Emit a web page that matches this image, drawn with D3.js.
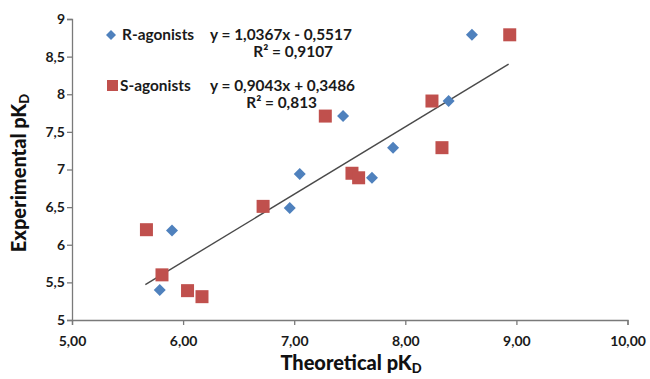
<!DOCTYPE html>
<html><head><meta charset="utf-8">
<script src="https://cdn.jsdelivr.net/npm/d3@7"></script>
<style>
html,body{margin:0;padding:0;background:#fff;}
text{font-family:Lato,"Open Sans",sans-serif;}
</style></head>
<body><svg id="c" width="650" height="379"></svg>
<script>
// Data
const rX = [5.79, 5.90, 6.96, 7.05, 7.44, 7.70, 7.89, 8.39, 8.60];
const rY = [5.40, 6.19, 6.49, 6.94, 7.71, 6.89, 7.29, 7.91, 8.79];
const sX = [5.67, 5.81, 6.04, 6.17, 6.72, 7.28, 7.52, 7.58, 8.24, 8.33, 8.94];
const sY = [6.20, 5.60, 5.39, 5.31, 6.51, 7.71, 6.95, 6.89, 7.91, 7.29, 8.79];
const trendX = [5.66, 8.93];
const trendY = [5.47, 8.40];
const xTicks = [5, 6, 7, 8, 9, 10];
const yTicks = [5, 5.5, 6, 6.5, 7, 7.5, 8, 8.5, 9];
const seriesNames = ["R-agonists", "S-agonists"];
const equations = ["y = 1,0367x - 0,5517", "y = 0,9043x + 0,3486"];
const r2Labels = ["R² = 0,9107", "R² = 0,813"];
const xTitle = "Theoretical pK";
const yTitle = "Experimental pK";

const blue = "#4F81BD", red = "#C0504D";
const svg = d3.select("#c");
const x = d3.scaleLinear().domain([5, 10]).range([72, 627.5]);
const y = d3.scaleLinear().domain([5, 9]).range([320, 19]);
const fmtX = d => d3.format(".2f")(d).replace(".", ",");
const fmtY = d => String(d).replace(".", ",");

// axes
const xa = svg.append("g").attr("transform", "translate(0,320)")
  .call(d3.axisBottom(x).tickValues(xTicks).tickFormat(fmtX).tickSizeOuter(0).tickSize(5));
const ya = svg.append("g").attr("transform", "translate(72,0)")
  .call(d3.axisLeft(y).tickValues(yTicks).tickFormat(fmtY).tickSizeOuter(0).tickSize(5));
[xa, ya].forEach(a => {
  a.select(".domain").attr("stroke", "#7a7a7a").attr("stroke-width", 1.3);
  a.selectAll(".tick line").attr("stroke", "#7a7a7a").attr("stroke-width", 1.3);
  a.selectAll(".tick text").attr("fill", "#1a1a1a").style("font-size", "14px").style("font-weight", "700")
   .style("font-family", "Lato, sans-serif");
});
xa.selectAll(".tick text").attr("dy", "1.25em");
ya.selectAll(".tick text").attr("x", -7);

// trendline
svg.append("line")
  .attr("x1", x(trendX[0])).attr("y1", y(trendY[0]))
  .attr("x2", x(trendX[1])).attr("y2", y(trendY[1]))
  .attr("stroke", "#4a4a4a").attr("stroke-width", 1.4);

// S squares
const sq = 13;
svg.append("g").selectAll("rect").data(sX.map((v, i) => [v, sY[i]])).join("rect")
  .attr("x", d => x(d[0]) - sq / 2).attr("y", d => y(d[1]) - sq / 2)
  .attr("width", sq).attr("height", sq).attr("fill", red);

// R diamonds
const dm = 6;
svg.append("g").selectAll("path").data(rX.map((v, i) => [v, rY[i]])).join("path")
  .attr("d", d => `M${x(d[0])},${y(d[1]) - dm}L${x(d[0]) + dm},${y(d[1])}L${x(d[0])},${y(d[1]) + dm}L${x(d[0]) - dm},${y(d[1])}Z`)
  .attr("fill", blue);

// legend
const lg = svg.append("g").style("font-size", "15.4px").style("font-weight", "700").attr("fill", "#1a1a1a");
const rowY = [35, 86];
lg.append("path").attr("d", `M111,${rowY[0]-5}L116,${rowY[0]}L111,${rowY[0]+5}L106,${rowY[0]}Z`).attr("fill", blue);
lg.append("rect").attr("x", 107).attr("y", rowY[1] - 6).attr("width", 11).attr("height", 11).attr("fill", red);
seriesNames.forEach((n, i) => {
  lg.append("text").attr("x", i === 0 ? 122 : 120).attr("y", rowY[i]).attr("dy", "0.35em").text(n);
  lg.append("text").attr("x", 210).attr("y", rowY[i]).attr("dy", "0.35em").text(equations[i]);
  lg.append("text").attr("x", i === 0 ? 333 : 317).attr("y", rowY[i] + 17).attr("dy", "0.35em")
    .attr("text-anchor", "end").text(r2Labels[i]);
});

// axis titles
const xt = svg.append("text").attr("x", 351).attr("y", 370).attr("text-anchor", "middle")
  .style("font-size", "20px").style("font-weight", "900").attr("fill", "#111");
xt.append("tspan").text(xTitle);
xt.append("tspan").attr("dy", 3).style("font-size", "13px").text("D");
const yt = svg.append("text").attr("transform", "translate(26,173) rotate(-90)").attr("text-anchor", "middle")
  .style("font-size", "20px").style("font-weight", "900").attr("fill", "#111");
yt.append("tspan").text(yTitle);
yt.append("tspan").attr("dy", 3).style("font-size", "13px").text("D");
</script></body></html>
